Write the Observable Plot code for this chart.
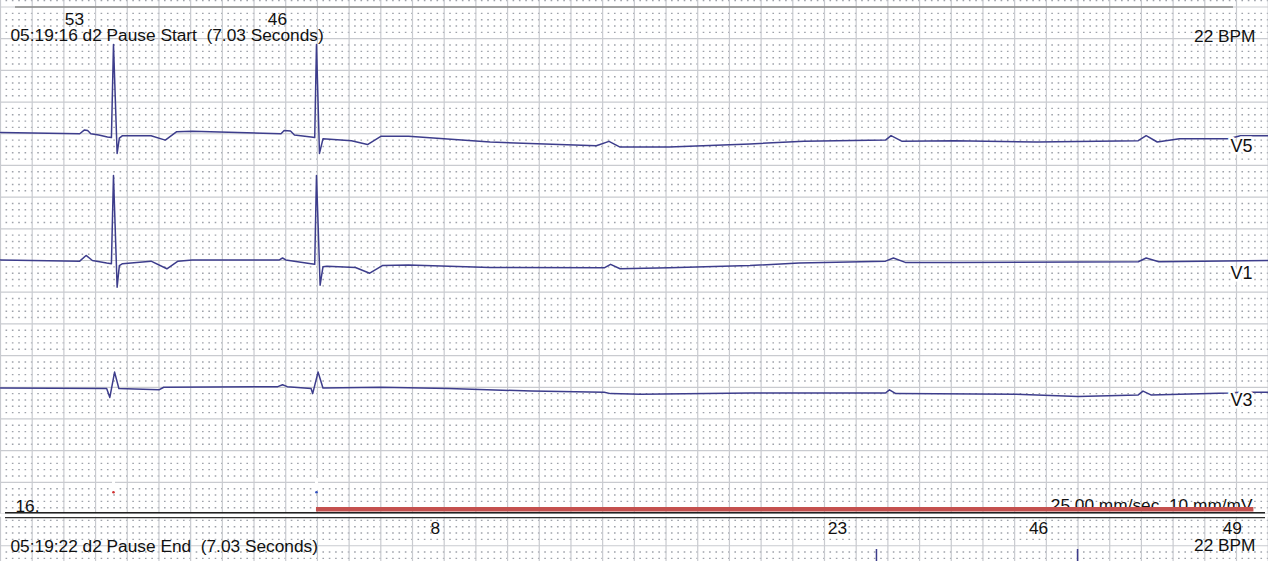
<!DOCTYPE html>
<html>
<head>
<meta charset="utf-8">
<script src="https://cdn.jsdelivr.net/npm/d3@7"></script>
<script src="https://cdn.jsdelivr.net/npm/@observablehq/plot@0.6"></script>
<style>
  html, body { margin: 0; padding: 0; background: #fff; }
  svg text { white-space: pre; }
</style>
</head>
<body>
<div id="chart"></div>
<script>
// ---------- data (time in s, amplitude in mV) ----------
const leadNames = ["V5", "V1", "V3"];
const leadOffsets = [-2, -4, -6]; // row baselines, mV below the top grid line

const leadV5 = [
  [0.00,0.02],[0.50,0.00],[0.53,0.06],[0.55,0.05],[0.57,0.00],[0.62,-0.02],[0.675,-0.05],[0.70,-0.06],
  [0.713,1.41],[0.736,-0.31],[0.75,-0.07],[0.77,-0.03],[0.95,-0.03],[1.04,-0.10],[1.11,0.03],[1.21,0.04],
  [1.77,0.00],[1.79,0.05],[1.83,0.045],[1.855,-0.02],[1.96,-0.05],[1.983,-0.06],[1.994,1.41],[2.013,-0.31],
  [2.035,-0.08],[2.215,-0.11],[2.316,-0.17],[2.40,-0.04],[2.575,-0.04],[3.09,-0.13],[3.76,-0.19],[3.84,-0.12],
  [3.91,-0.21],[4.22,-0.21],[4.73,-0.16],[5.07,-0.12],[5.585,-0.10],[5.62,-0.03],[5.69,-0.12],[6.02,-0.11],
  [6.54,-0.13],[7.18,-0.11],[7.23,-0.03],[7.30,-0.13],[7.44,-0.08],[7.75,-0.08],[7.825,-0.03],[8.0,-0.03]
];
const leadV1 = [
  [0.00,0.01],[0.50,-0.01],[0.54,0.08],[0.58,0.00],[0.67,-0.04],[0.70,-0.05],[0.713,1.34],[0.736,-0.42],
  [0.75,-0.08],[0.77,-0.05],[0.95,-0.01],[1.05,-0.13],[1.12,-0.01],[1.21,0.01],[1.76,0.01],[1.78,0.04],
  [1.80,0.01],[1.96,-0.05],[1.983,-0.06],[1.994,1.34],[2.017,-0.39],[2.035,-0.10],[2.06,-0.09],[2.24,-0.11],
  [2.33,-0.20],[2.41,-0.08],[2.575,-0.07],[3.09,-0.11],[3.81,-0.115],[3.85,-0.06],[3.91,-0.13],[4.22,-0.115],
  [4.73,-0.08],[5.04,-0.04],[5.585,-0.01],[5.635,0.04],[5.71,-0.03],[6.02,-0.03],[7.18,-0.02],[7.23,0.04],
  [7.31,-0.02],[8.0,0.00]
];
const leadV3 = [
  [0.00,-0.01],[0.67,-0.02],[0.69,-0.16],[0.72,0.24],[0.747,-0.02],[1.00,-0.04],[1.03,0.00],[1.75,0.01],
  [1.78,0.04],[1.81,0.01],[1.96,-0.02],[1.97,-0.10],[2.004,0.24],[2.035,-0.01],[2.40,0.00],[2.83,-0.02],
  [3.35,-0.06],[3.81,-0.08],[3.85,-0.10],[4.04,-0.11],[4.73,-0.09],[5.585,-0.09],[5.61,-0.04],[5.65,-0.10],
  [6.41,-0.11],[6.80,-0.145],[7.18,-0.12],[7.21,-0.06],[7.26,-0.12],[7.75,-0.09],[7.825,-0.08],[8.0,-0.08]
];
const leads = [leadV5, leadV1, leadV3];

const beatTimes = [0.713, 1.994];           // QRS of the two conducted beats
const beatHR = ["53", "46"];
const nextBeatTimes = [2.99, 5.528, 6.797, 8.02]; // beats of the following strip
const nextBeatHR = ["8", "23", "46", "49"];
const nextStripSpikes = [5.528, 6.797];
const pauseStart = 1.994;
const stripEnd = 7.91;
const startLabel = "05:19:16 d2 Pause Start  (7.03 Seconds)";
const endLabel = "05:19:22 d2 Pause End  (7.03 Seconds)";
const rateLabel = "22 BPM";
const scaleLabel = "25.00 mm/sec  10 mm/mV";
const stripNumber = "16.";

// ---------- layout ----------
const W = 1268, H = 561;
const PX_PER_S = 158.46, PX_PER_MV = 63.38, Y0 = 6.5;
const MM = PX_PER_MV / 10;
const X = px => px / PX_PER_S;
const Y = px => (Y0 - px) / PX_PER_MV;
const traceColor = "#3d3d8c";

const majorX = d3.range(0, 41).map(i => i * 0.2);
const majorY = d3.range(-1, 18).map(i => -i * 0.5);
const minorY = d3.range(-5, 90).filter(i => i % 5).map(i => -i * 0.1);

const txt = (data, opts) => Plot.text(data, {text: d => d, lineAnchor: "bottom", fill: "#111", ...opts});

const chart = Plot.plot({
  width: W, height: H, margin: 0,
  x: {domain: [0, W / PX_PER_S], range: [0, W], axis: null},
  y: {domain: [Y(0), Y(H)], range: [0, H], axis: null},
  style: {fontFamily: "'Liberation Sans', Arial, Helvetica, sans-serif", fontSize: "17.3px", background: "#fff", overflow: "visible"},
  marks: [
    // ECG paper grid: 1 mm dots, 5 mm lines
    Plot.ruleY(minorY, {y: d => d, stroke: "#9ea2aa", strokeWidth: 1.4,
      strokeDasharray: `1.6,${(MM - 1.6).toFixed(3)}`, strokeDashoffset: 0.8}),
    Plot.ruleX(majorX, {x: d => d, stroke: "#c9cbd0", strokeWidth: 1.2}),
    Plot.ruleY(majorY, {y: d => d, stroke: "#c9cbd0", strokeWidth: 1.2}),
    Plot.ruleY([Y(6.5)], {x1: X(15), x2: X(1233), stroke: "#8a8a8a", strokeWidth: 1.4}),

    // traces
    ...leads.map((lead, i) => Plot.line(lead, {
      x: d => d[0], y: d => d[1] + leadOffsets[i],
      stroke: traceColor, strokeWidth: 1.5, strokeLinejoin: "round"
    })),
    Plot.ruleX(nextStripSpikes, {x: d => d, y1: Y(549), y2: Y(561), stroke: traceColor, strokeWidth: 1.5}),

    // lead labels
    Plot.text(leadNames, {
      x: X(1230), y: (d, i) => leadOffsets[i] - 0.29, text: d => d, textAnchor: "start",
      lineAnchor: "bottom", fontSize: 18, fill: "#111", stroke: "white", strokeWidth: 5, paintOrder: "stroke"
    }),

    // beat markers
    Plot.ruleX(beatTimes, {x: d => d, y1: Y(478), y2: Y(490), stroke: "white", strokeWidth: 3}),
    Plot.dot([beatTimes[0]], {x: d => d, y: Y(491.7), r: 1.3, fill: "#d03030", stroke: null}),
    Plot.dot([beatTimes[1]], {x: d => d, y: Y(491.7), r: 1.3, fill: "#3050c0", stroke: null}),

    // header texts
    txt(beatHR, {x: (d, i) => beatTimes[i], y: Y(24.5), dx: -39, textAnchor: "middle"}),
    txt([startLabel], {x: X(10), y: Y(40.5), textAnchor: "start"}),
    txt([rateLabel], {x: X(1255), y: Y(41), textAnchor: "end"}),

    // bottom separator and pause band
    txt([scaleLabel], {x: X(1252), y: Y(510), textAnchor: "end"}),
    Plot.ruleY([Y(512.4)], {x1: X(5), x2: X(1265), stroke: "#222", strokeWidth: 1.8}),
    Plot.ruleY([Y(508.8)], {x1: pauseStart, x2: stripEnd, stroke: "#c4504e", strokeWidth: 4.6}),
    Plot.ruleY([Y(514.8)], {x1: X(0), x2: X(1268), stroke: "white", strokeWidth: 3}),
    Plot.ruleY([Y(517.2)], {x1: X(5), x2: X(1265), stroke: "#333", strokeWidth: 1.3}),
    txt([stripNumber], {x: X(15), y: Y(511), textAnchor: "start"}),

    // next strip texts
    txt(nextBeatHR, {x: (d, i) => nextBeatTimes[i], y: Y(533), dx: -39, textAnchor: "middle"}),
    txt([endLabel], {x: X(10), y: Y(551), textAnchor: "start"}),
    txt([rateLabel], {x: X(1255), y: Y(550), textAnchor: "end"})
  ]
});
document.getElementById("chart").appendChild(chart);
</script>
</body>
</html>
